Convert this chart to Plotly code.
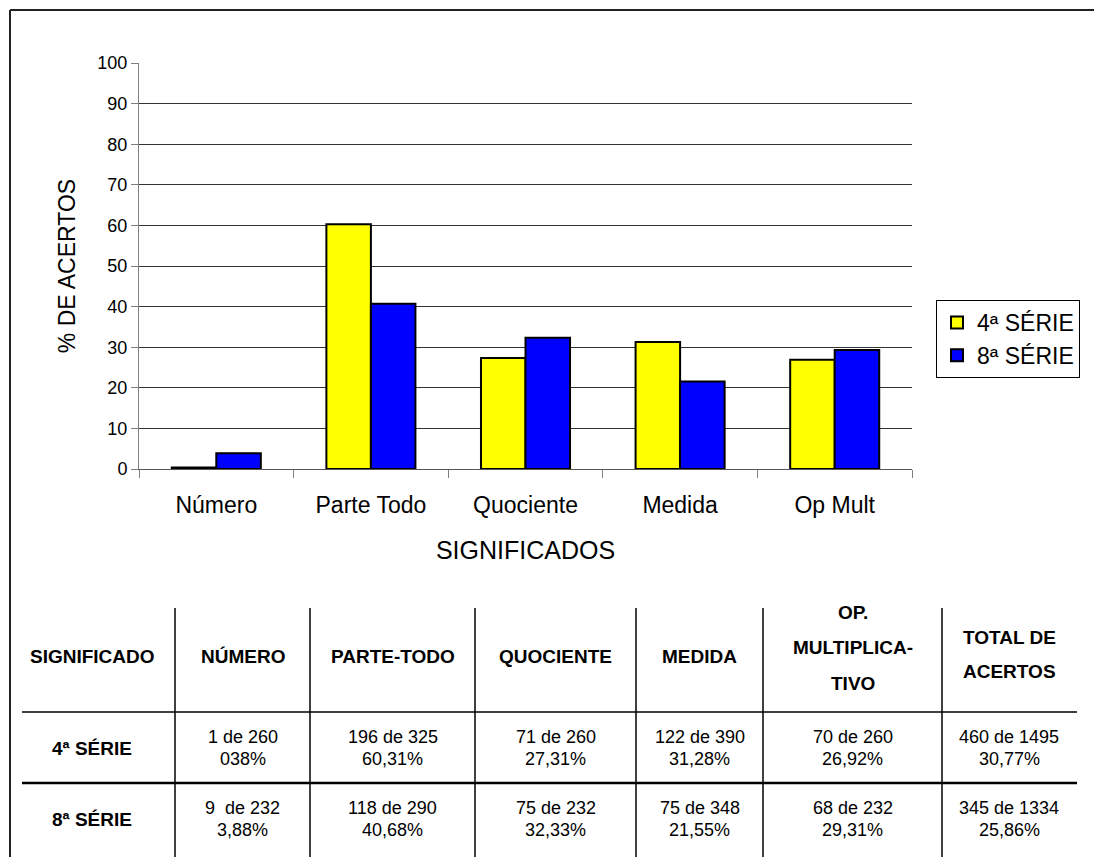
import plotly.graph_objects as go

# ---------------- data ----------------
categories = ["Número", "Parte Todo", "Quociente", "Medida", "Op Mult"]
serie4 = [0.38, 60.31, 27.31, 31.28, 26.92]
serie8 = [3.88, 40.68, 32.33, 21.55, 29.31]
series_names = ["4ª SÉRIE", "8ª SÉRIE"]
y_ticks = [0, 10, 20, 30, 40, 50, 60, 70, 80, 90, 100]

table_header = ["SIGNIFICADO", "NÚMERO", "PARTE-TODO", "QUOCIENTE", "MEDIDA",
                "OP.|MULTIPLICA-|TIVO", "TOTAL DE|ACERTOS"]
row_labels = ["4ª SÉRIE", "8ª SÉRIE"]
row4_counts = ["1 de 260", "196 de 325", "71 de 260", "122 de 390", "70 de 260", "460 de 1495"]
row4_pcts = ["038%", "60,31%", "27,31%", "31,28%", "26,92%", "30,77%"]
row8_counts = ["9  de 232", "118 de 290", "75 de 232", "75 de 348", "68 de 232", "345 de 1334"]
row8_pcts = ["3,88%", "40,68%", "32,33%", "21,55%", "29,31%", "25,86%"]

# ---------------- layout geometry (pixels) ----------------
W, H = 1094, 857
L, R, T, B = 139, 912, 63, 469
PW, PH = R - L, B - T


def px(x):
    return (x - L) / PW


def py(y):
    return (B - y) / PH


FONT = "Arial, 'Liberation Sans', Helvetica, sans-serif"

fig = go.Figure()
fig.add_trace(go.Bar(x=categories, y=serie4, name=series_names[0],
                     marker=dict(color="#FFFF00", line=dict(color="#000000", width=2))))
fig.add_trace(go.Bar(x=categories, y=serie8, name=series_names[1],
                     marker=dict(color="#0000FF", line=dict(color="#000000", width=2))))

shapes = []
annotations = []

# outer frame (left + top)
shapes.append(dict(type="line", xref="paper", yref="paper", x0=px(10), x1=px(10), y0=py(10), y1=py(H + 5),
                   line=dict(color="#222", width=2)))
shapes.append(dict(type="line", xref="paper", yref="paper", x0=px(10), x1=px(W + 5), y0=py(10), y1=py(10),
                   line=dict(color="#222", width=2)))

# table lines
col_edges = [22, 175, 310, 475, 636, 763, 942, 1077]
for xv in col_edges[1:-1]:
    shapes.append(dict(type="line", xref="paper", yref="paper", x0=px(xv), x1=px(xv), y0=py(608), y1=py(H + 5),
                       line=dict(color="#000", width=1.5)))
shapes.append(dict(type="line", xref="paper", yref="paper", x0=px(22), x1=px(1077), y0=py(712), y1=py(712),
                   line=dict(color="#000", width=1.5)))
shapes.append(dict(type="line", xref="paper", yref="paper", x0=px(22), x1=px(1077), y0=py(783), y1=py(783),
                   line=dict(color="#000", width=2.5)))

col_centers = [(col_edges[i] + col_edges[i + 1]) / 2 for i in range(len(col_edges) - 1)]
col_centers[0] = 92


def add_text(x, y, text, size, bold=False):
    annotations.append(dict(xref="paper", yref="paper", x=px(x), y=py(y), text=("<b>%s</b>" % text) if bold else text,
                            showarrow=False, xanchor="center", yanchor="middle",
                            font=dict(family=FONT, size=size, color="#000")))


HDR = 19
VAL = 18
for i, h in enumerate(table_header):
    lines = h.split("|")
    if len(lines) == 1:
        ys = [656]
    elif len(lines) == 2:
        ys = [637, 671]
    else:
        ys = [612, 647, 683]
    for ln, yy in zip(lines, ys):
        add_text(col_centers[i], yy, ln, HDR, bold=True)

add_text(col_centers[0], 748, row_labels[0], HDR, bold=True)
add_text(col_centers[0], 819, row_labels[1], HDR, bold=True)
for j in range(6):
    add_text(col_centers[j + 1], 737, row4_counts[j], VAL)
    add_text(col_centers[j + 1], 759, row4_pcts[j], VAL)
    add_text(col_centers[j + 1], 808, row8_counts[j], VAL)
    add_text(col_centers[j + 1], 830, row8_pcts[j], VAL)

fig.update_layout(
    width=W, height=H,
    margin=dict(l=L, r=W - R, t=T, b=H - B, pad=0),
    paper_bgcolor="white", plot_bgcolor="white",
    font=dict(family=FONT, color="#000"),
    barmode="group", bargap=0.424, bargroupgap=0,
    showlegend=True,
    legend=dict(x=px(936), y=py(300), xanchor="left", yanchor="top",
                bordercolor="#000", borderwidth=1, bgcolor="white",
                font=dict(family=FONT, size=23, color="#000"),
                itemwidth=30),
    shapes=shapes,
    annotations=annotations,
)

fig.update_xaxes(type="category", tickson="boundaries", ticks="outside", ticklen=8, tickcolor="#808080",
                 showline=True, linecolor="#555", linewidth=1, showgrid=False,
                 tickfont=dict(family=FONT, size=23), ticklabelstandoff=15,
                 title=dict(text="SIGNIFICADOS", font=dict(family=FONT, size=25), standoff=24))
fig.update_yaxes(range=[0, 100], tickvals=y_ticks, ticks="outside", ticklen=7, tickcolor="#808080",
                 showline=True, linecolor="#808080", linewidth=1, zeroline=False,
                 showgrid=True, gridcolor="#333", gridwidth=1,
                 tickfont=dict(family=FONT, size=18),
                 title=dict(text="% DE ACERTOS", font=dict(family=FONT, size=23), standoff=15))

fig.write_html("out.html")
